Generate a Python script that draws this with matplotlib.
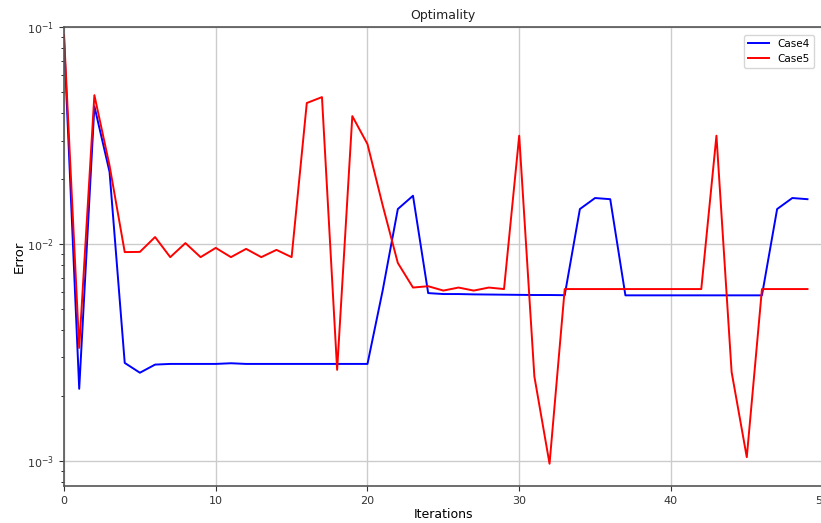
import matplotlib
matplotlib.use("Agg")
import matplotlib.pyplot as plt
import numpy as np

iterations = list(range(50))
case4 = [0.088, 0.00215, 0.0432, 0.0215, 0.00283, 0.00255, 0.00278, 0.0028, 0.0028, 0.0028,
         0.0028, 0.00282, 0.0028, 0.0028, 0.0028, 0.0028, 0.0028, 0.0028, 0.0028, 0.0028,
         0.0028, 0.0061, 0.0145, 0.0167, 0.00594, 0.00588, 0.00588, 0.00586, 0.00585, 0.00584,
         0.00583, 0.00582, 0.00582, 0.00581, 0.0145, 0.0163, 0.0161, 0.0058, 0.0058, 0.0058,
         0.0058, 0.0058, 0.0058, 0.0058, 0.0058, 0.0058, 0.0058, 0.0145, 0.0163, 0.0161]
case5 = [0.092, 0.00332, 0.0486, 0.023, 0.00918, 0.0092, 0.01077, 0.0087, 0.0101, 0.0087,
         0.0096, 0.0087, 0.0095, 0.0087, 0.0094, 0.0087, 0.0447, 0.0476, 0.00263, 0.0389,
         0.0289, 0.0151, 0.00818, 0.0063, 0.00639, 0.0061, 0.0063, 0.0061, 0.0063, 0.0062,
         0.0316, 0.00245, 0.00097, 0.0062, 0.0062, 0.0062, 0.0062, 0.0062, 0.0062, 0.0062,
         0.0062, 0.0062, 0.0062, 0.0316, 0.00257, 0.00104, 0.0062, 0.0062, 0.0062, 0.0062]

fig = plt.figure(figsize=(8.21, 5.23), dpi=100)
ax = fig.add_axes([0.078, 0.071, 0.924, 0.877])
ax.plot(iterations, case4, color="blue", lw=1.4, label="Case4")
ax.plot(iterations, case5, color="red", lw=1.4, label="Case5")
ax.set_yscale("log")
ax.set_xlim(0, 50)
ax.set_ylim(7.67e-4, 1e-1)
ax.set_xticks([0, 10, 20, 30, 40, 50])
ax.grid(True, which="major", color="#cccccc", lw=1.0)
ax.tick_params(labelsize=8, colors="#333333")
for s in ax.spines.values():
    s.set_color("#555555")
    s.set_linewidth(1.2)
ax.set_title("Optimality", fontsize=9, color="#222222")
ax.set_xlabel("Iterations", fontsize=9, labelpad=2)
ax.set_ylabel("Error", fontsize=9.5, labelpad=8)
ax.yaxis.set_label_coords(-0.05, 0.5)
ax.legend(loc="upper right", fontsize=7.5, bbox_to_anchor=(0.995, 0.995))
fig.savefig("out.png", dpi=100)
